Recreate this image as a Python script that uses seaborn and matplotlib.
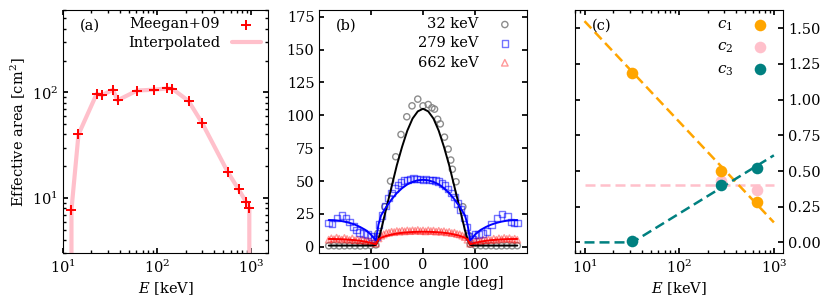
import numpy as np
import pandas as pd
import matplotlib
matplotlib.use("Agg")
import matplotlib.pyplot as plt
import seaborn as sns

# ---------------- data ----------------
# (a) Meegan+09 effective area
meegan_E = [12.3, 14.6, 22.8, 26.0, 33.8, 37.9, 61.0, 92.0, 128.0, 145.0, 215.0, 301.0, 562.0, 731.0, 880.0, 950.0]
meegan_A = [7.8, 40.0, 97.0, 94.0, 106.0, 84.0, 104.0, 106.0, 109.0, 108.0, 83.0, 51.0, 17.6, 12.1, 9.2, 8.1]

# (b) angular response, measured points
ang_32 = [-180, -170, -160, -150, -140, -130, -120, -110, -100, -90, -86, -73, -62, -52, -42, -31, -21, -10,
          0, 10, 17, 22, 28, 33, 41, 48, 53, 56, 63, 76, 86, 90, 100, 110, 120, 130, 140, 150, 160, 170, 180]
val_32 = [0.8, 0.9, 0.7, 0.8, 0.9, 0.8, 0.7, 0.9, 1.0, 1.5, 10.3, 30.5, 50.0, 68.5, 85.4, 98.9, 107.2, 112.3,
          107.2, 108.2, 105.7, 104.7, 97.0, 93.5, 83.4, 74.3, 66.0, 59.0, 49.5, 30.5, 9.0, 2.0, 1.0, 0.9, 0.8, 0.9, 0.7, 0.8, 0.9, 0.8, 0.9]

ang_279 = [-180, -174, -164, -155, -147, -140, -133, -127, -121, -114, -106, -99, -94,
           -88, -84, -78, -72, -66, -60, -54, -48, -42, -36, -30, -24, -18, -12, -6,
           0, 6, 12, 18, 24, 30, 36, 42, 48, 54, 60, 66, 72, 78, 84, 88,
           94, 99, 106, 114, 122, 131, 141, 151, 161, 168, 174, 180]
val_279 = [18.2, 17.5, 22.0, 23.7, 22.0, 19.0, 15.6, 13.0, 11.0, 10.0, 9.3, 8.0, 6.0,
           8.0, 17.0, 24.0, 31.0, 37.0, 41.0, 44.5, 47.0, 49.0, 50.5, 51.0, 51.5, 52.0, 51.5, 51.5,
           51.0, 51.5, 51.0, 51.0, 50.5, 49.5, 48.0, 46.5, 44.0, 41.0, 38.0, 33.0, 28.5, 22.0, 15.0, 8.0,
           6.0, 9.3, 9.5, 10.0, 11.8, 17.0, 22.0, 25.0, 23.2, 19.0, 18.0, 18.2]

ang_662 = [-180, -175, -170, -165, -160, -155, -150, -145, -140, -135, -130, -125, -120, -115, -110, -105, -100, -95,
           -90, -85, -80, -75, -70, -65, -60, -55, -50, -45, -40, -35, -30, -25, -20, -15, -10, -5,
           0, 5, 10, 15, 20, 25, 30, 35, 40, 45, 50, 55, 60, 65, 70, 75, 80, 85,
           90, 95, 100, 105, 110, 115, 120, 125, 130, 135, 140, 145, 150, 155, 160, 165, 170, 175, 180]
val_662 = [5.5, 6.5, 5.8, 7.0, 6.2, 5.5, 6.8, 6.0, 5.2, 6.4, 5.0, 5.6, 4.8, 5.2, 4.2, 4.5, 3.8, 3.0,
           2.5, 6.5, 8.5, 9.5, 10.5, 10.8, 11.5, 11.2, 12.0, 11.6, 12.3, 11.8, 12.5, 12.0, 12.6, 12.2, 12.8, 12.0,
           12.5, 11.8, 12.6, 12.0, 12.4, 11.6, 12.2, 11.5, 11.9, 11.0, 11.4, 10.5, 10.8, 9.8, 9.5, 8.6, 7.5, 5.5,
           2.5, 3.2, 4.0, 4.6, 4.3, 5.2, 4.9, 5.6, 5.1, 6.2, 5.4, 6.5, 5.8, 6.8, 6.0, 6.6, 5.5, 6.2, 5.4]

# (b) model curves
curve_ang = [-180, -170, -160, -150, -140, -130, -120, -110, -100, -95, -90, -85, -80, -70, -60, -50, -40, -30, -20, -10,
             0, 10, 20, 30, 40, 50, 60, 70, 80, 85, 90, 95, 100, 110, 120, 130, 140, 150, 160, 170, 180]
curve_32 = [1.0, 1.0, 1.0, 1.0, 1.0, 1.0, 1.0, 1.0, 1.0, 1.2, 1.5, 5.6, 12.8, 29.5, 45.7, 62.0, 76.0, 88.3, 97.5, 103.0,
            105.0, 103.0, 97.5, 88.3, 76.0, 62.0, 45.7, 29.5, 12.8, 5.6, 1.5, 1.2, 1.0, 1.0, 1.0, 1.0, 1.0, 1.0, 1.0, 1.0, 1.0]
curve_279 = [20.4, 20.3, 19.9, 19.2, 18.2, 16.9, 15.1, 12.9, 9.6, 7.2, 5.0, 17.0, 24.0, 30.5, 36.1, 40.9, 44.6, 47.5, 49.4, 50.6,
             51.0, 50.6, 49.4, 47.5, 44.6, 40.9, 36.1, 30.5, 24.0, 17.0, 5.0, 7.2, 9.6, 12.9, 15.1, 16.9, 18.2, 19.2, 19.9, 20.3, 20.4]
curve_662 = [6.0, 5.97, 5.87, 5.7, 5.4, 5.1, 4.6, 4.0, 3.1, 2.5, 2.0, 5.7, 7.0, 8.4, 9.4, 10.2, 10.7, 11.05, 11.3, 11.45,
             11.5, 11.45, 11.3, 11.05, 10.7, 10.2, 9.4, 8.4, 7.0, 5.7, 2.0, 2.5, 3.1, 4.0, 4.6, 5.1, 5.4, 5.7, 5.87, 5.97, 6.0]

# (c) fit parameters vs energy
c_E = [32, 279, 662]
c1_val = [1.19, 0.50, 0.28]
c2_E = [279, 662]
c2_val = [0.43, 0.37]
c3_val = [0.01, 0.40, 0.52]
c1_line_E = [10, 1000]
c1_line = [1.55, 0.14]
c2_line_E = [10, 1000]
c2_line = [0.40, 0.40]
c3_line_E = [10, 32, 1000]
c3_line = [0.0, 0.0, 0.61]

# ---------------- style ----------------
FS = 10.5
sns.set_theme(style="ticks")
plt.rcParams.update({
    "font.family": ["DejaVu Serif"],
    "mathtext.fontset": "dejavuserif",
    "font.size": FS,
    "axes.labelsize": FS,
    "xtick.labelsize": FS,
    "ytick.labelsize": FS,
    "legend.fontsize": FS,
    "axes.edgecolor": "black",
    "axes.labelcolor": "black",
    "text.color": "black",
    "xtick.color": "black",
    "ytick.color": "black",
    "axes.linewidth": 0.8,
    "xtick.direction": "in",
    "ytick.direction": "in",
    "xtick.top": True,
    "ytick.right": True,
    "xtick.major.size": 3.5,
    "ytick.major.size": 3.5,
    "xtick.minor.size": 2,
    "ytick.minor.size": 2,
    "axes.labelpad": 3,
})

fig = plt.figure(figsize=(8.3, 3.05), dpi=100)
axa = fig.add_axes([0.0759, 0.169, 0.247, 0.798])
axb = fig.add_axes([0.3847, 0.169, 0.2499, 0.798])
axc = fig.add_axes([0.6928, 0.169, 0.251, 0.798])

# ---------------- (a) ----------------
line_E = [meegan_E[0]] + meegan_E + [meegan_E[-1]]
line_A = [0.0] + meegan_A + [0.0]
sns.lineplot(x=line_E, y=line_A, ax=axa, color="pink", lw=3, sort=False, estimator=None,
             label="Interpolated", zorder=2)
sns.scatterplot(x=meegan_E, y=meegan_A, ax=axa, marker="+", color="red", s=55, linewidth=1.4,
                label="Meegan+09", zorder=3)
axa.set_xscale("log")
axa.set_yscale("log")
axa.set_xlim(10, 1500)
axa.set_ylim(3, 600)
axa.set_xlabel("$E$ [keV]")
axa.set_ylabel("Effective area [cm$^2$]")
h, l = axa.get_legend_handles_labels()
axa.legend(h[::-1], l[::-1], loc="upper right", frameon=False, markerfirst=False,
           borderaxespad=0.1, handlelength=2.0, labelspacing=0.35)
axa.text(0.08, 0.965, "(a)", transform=axa.transAxes, va="top", ha="left")
axa.tick_params(which="both", top=True, right=True)

# ---------------- (b) ----------------
sns.lineplot(x=curve_ang, y=curve_32, ax=axb, color="black", lw=1.4, estimator=None, sort=False)
sns.lineplot(x=curve_ang, y=curve_279, ax=axb, color="blue", lw=1.4, estimator=None, sort=False)
sns.lineplot(x=curve_ang, y=curve_662, ax=axb, color="red", lw=1.4, estimator=None, sort=False)
sns.scatterplot(x=ang_32, y=val_32, ax=axb, marker="o", s=20, facecolor="none", edgecolor="gray",
                linewidth=1.0, alpha=0.9, label="32 keV")
sns.scatterplot(x=ang_279, y=val_279, ax=axb, marker="s", s=22, facecolor="none", edgecolor="blue",
                linewidth=1.0, alpha=0.55, label="279 keV")
sns.scatterplot(x=ang_662, y=val_662, ax=axb, marker="^", s=22, facecolor="none", edgecolor="red",
                linewidth=1.0, alpha=0.4, label="662 keV")
axb.set_xlim(-198, 198)
axb.set_ylim(-5, 180)
axb.set_yticks([0, 25, 50, 75, 100, 125, 150, 175])
axb.set_xticks([-100, 0, 100])
axb.set_xticklabels(["\u2212100", "0", "100"])
axb.set_xlabel("Incidence angle [deg]")
axb.legend(loc="upper right", frameon=False, markerfirst=False, borderaxespad=0.1, labelspacing=0.35)
axb.text(0.08, 0.965, "(b)", transform=axb.transAxes, va="top", ha="left")

# ---------------- (c) ----------------
sns.lineplot(x=c2_line_E, y=c2_line, ax=axc, color="pink", lw=1.8, estimator=None,
             linestyle=(0, (4, 2)))
sns.lineplot(x=c1_line_E, y=c1_line, ax=axc, color="orange", lw=1.8, estimator=None,
             linestyle=(0, (4, 2)))
sns.lineplot(x=c3_line_E, y=c3_line, ax=axc, color="teal", lw=1.8, estimator=None,
             linestyle=(0, (4, 2)))
sns.scatterplot(x=c2_E, y=c2_val, ax=axc, color="pink", s=70, linewidth=0, label="$c_2$", zorder=3)
sns.scatterplot(x=c_E, y=c1_val, ax=axc, color="orange", s=70, linewidth=0, label="$c_1$", zorder=4)
sns.scatterplot(x=c_E, y=c3_val, ax=axc, color="teal", s=70, linewidth=0, label="$c_3$", zorder=5)
axc.set_xscale("log")
axc.set_xlim(7.94, 1259)
axc.set_ylim(-0.0775, 1.6275)
axc.set_yticks([0, 0.25, 0.5, 0.75, 1.0, 1.25, 1.5])
axc.set_yticklabels(["0.00", "0.25", "0.50", "0.75", "1.00", "1.25", "1.50"])
axc.tick_params(axis="y", which="both", left=True, right=True, labelleft=False, labelright=True)
axc.tick_params(axis="x", which="both", top=True, bottom=True)
axc.set_xlabel("$E$ [keV]")
h, l = axc.get_legend_handles_labels()
order = [l.index("$c_1$"), l.index("$c_2$"), l.index("$c_3$")]
axc.legend([h[i] for i in order], [l[i] for i in order], loc="upper right", frameon=False,
           markerfirst=False, borderaxespad=0.1, labelspacing=0.45, fontsize=11)
axc.text(0.08, 0.965, "(c)", transform=axc.transAxes, va="top", ha="left")

fig.savefig("out.png", dpi=100)
